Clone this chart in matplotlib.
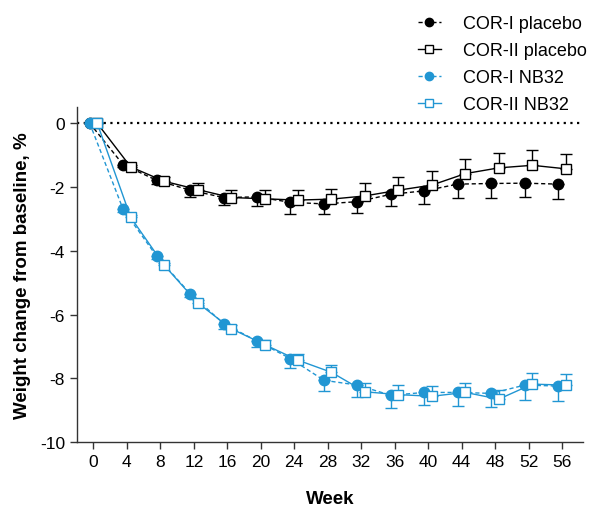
import matplotlib
matplotlib.use("Agg")
import matplotlib.pyplot as plt
import numpy as np

plt.rcParams["font.family"] = ["Liberation Sans", "DejaVu Sans"]

# ---- data ------------------------------------------------------------------
weeks = [0, 4, 8, 12, 16, 20, 24, 28, 32, 36, 40, 44, 48, 52, 56]

cor1_placebo = [0, -1.30, -1.79, -2.10, -2.33, -2.31, -2.48, -2.53, -2.46,
                -2.23, -2.12, -1.91, -1.89, -1.88, -1.91]
cor1_placebo_err = [0, 0.08, 0.12, 0.20, 0.25, 0.30, 0.36, 0.33, 0.37,
                    0.37, 0.42, 0.42, 0.44, 0.44, 0.47]

cor2_placebo = [0, -1.37, -1.82, -2.08, -2.33, -2.37, -2.41, -2.38, -2.28,
                -2.10, -1.94, -1.58, -1.40, -1.32, -1.43]
cor2_placebo_err = [0, 0.06, 0.12, 0.20, 0.23, 0.27, 0.33, 0.31, 0.39,
                    0.40, 0.44, 0.45, 0.47, 0.47, 0.48]

cor1_nb32 = [0, -2.70, -4.17, -5.34, -6.28, -6.83, -7.38, -8.06, -8.21,
             -8.53, -8.44, -8.44, -8.47, -8.21, -8.24]
cor1_nb32_err = [0, 0.08, 0.10, 0.12, 0.16, 0.20, 0.28, 0.34, 0.37,
                 0.40, 0.40, 0.43, 0.42, 0.47, 0.46]

cor2_nb32 = [0, -2.95, -4.45, -5.63, -6.44, -6.94, -7.43, -7.81, -8.42,
             -8.51, -8.56, -8.44, -8.65, -8.18, -8.21]
cor2_nb32_err = [0, 0.06, 0.08, 0.10, 0.10, 0.15, 0.20, 0.22, 0.28,
                 0.30, 0.32, 0.30, 0.30, 0.36, 0.34]

BLUE = "#2196d3"
x = np.array(weeks, dtype=float)
shift = 0.45  # circles drawn a little left of the week, squares a little right

fig = plt.figure(figsize=(5.9, 5.1), dpi=100)
ax = fig.add_axes([0.130, 0.131, 0.858, 0.658])

ax.axhline(0, color="black", linestyle=(0, (1, 2.0)), linewidth=1.6, zorder=1)

series = [
    # values, err, color, marker, face, linestyle, offset, err side, label
    (cor1_placebo, cor1_placebo_err, "black", "o", "black", (0, (3, 2)), -shift, "low", "COR-I placebo"),
    (cor2_placebo, cor2_placebo_err, "black", "s", "white", "-", shift, "high", "COR-II placebo"),
    (cor1_nb32, cor1_nb32_err, BLUE, "o", BLUE, (0, (3, 2)), -shift, "low", "COR-I NB32"),
    (cor2_nb32, cor2_nb32_err, BLUE, "s", "white", "-", shift, "high", "COR-II NB32"),
]

handles = []
for vals, err, col, mk, face, ls, off, side, lab in series:
    err = np.array(err)
    zeros = np.zeros_like(err)
    yerr = [err, zeros] if side == "low" else [zeros, err]
    ax.errorbar(x + off, vals, yerr=yerr, fmt="none", ecolor=col,
                elinewidth=1.0, capsize=4.5, capthick=1.0, zorder=2)
    (h,) = ax.plot(x + off, vals, color=col, linestyle=ls, linewidth=1.0,
                   marker=mk, markersize=7.5 if mk == "o" else 7,
                   markerfacecolor=face, markeredgecolor=col,
                   markeredgewidth=1.0, label=lab, zorder=3)
    handles.append(h)

ax.set_xlim(-2.0, 58.5)
ax.set_ylim(-10, 0.52)
ax.set_xticks(weeks)
ax.set_yticks([0, -2, -4, -6, -8, -10])
ax.set_yticklabels(["0", "-2", "-4", "-6", "-8", "-10"])
ax.tick_params(axis="both", labelsize=12.5, length=5, width=1.0,
               direction="out", colors="#333333", labelcolor="black")
for side in ("top", "right"):
    ax.spines[side].set_visible(False)
for side in ("left", "bottom"):
    ax.spines[side].set_linewidth(1.0)
    ax.spines[side].set_color("#333333")

ax.set_xlabel("Week", fontsize=13.5, fontweight="bold", labelpad=15)
ax.set_ylabel("Weight change from baseline, %", fontsize=13.5,
              fontweight="bold", labelpad=6)

fig.legend(handles=handles, loc="upper right", bbox_to_anchor=(1.022, 1.0),
           frameon=False, fontsize=13, handlelength=1.3, markerscale=0.8,
           handletextpad=1.2, labelspacing=0.55)

fig.savefig("out.png", dpi=100)
